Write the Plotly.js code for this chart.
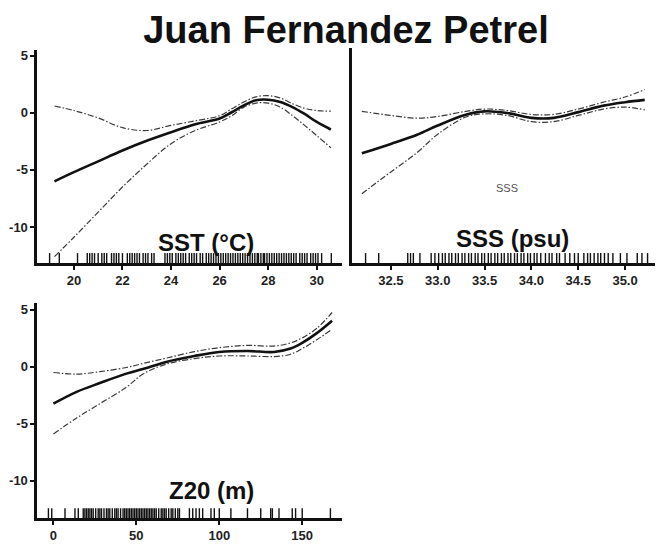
<!DOCTYPE html>
<html>
<head>
<meta charset="utf-8">
<script src="https://cdn.plot.ly/plotly-3.0.1.min.js"></script>
<style>html,body{margin:0;padding:0;background:#fff;}#chart{width:659px;height:544px;}</style>
</head>
<body>
<div id="chart"></div>
<script>
// ---- SST panel ----
const sstX     = [19.2, 20, 21, 22, 23, 24, 25, 26, 26.5, 27, 27.5, 28, 28.5, 29, 29.5, 30, 30.58];
const sstFit   = [-6.0, -5.2, -4.25, -3.3, -2.45, -1.7, -1.0, -0.5, 0.05, 0.65, 1.1, 1.15, 0.95, 0.5, -0.1, -0.8, -1.46];
const sstUpper = [0.6, 0.2, -0.45, -1.3, -1.55, -1.1, -0.7, -0.25, 0.35, 0.95, 1.4, 1.5, 1.3, 0.8, 0.4, 0.2, 0.15];
const sstLower = [-12.6, -10.9, -8.7, -6.5, -4.5, -2.7, -1.55, -0.8, -0.25, 0.5, 0.85, 0.85, 0.5, -0.25, -1.1, -2.0, -3.06];
const sstRug = [19.0, 19.4, 20.15, 20.55, 20.65, 20.75, 20.85, 21.0, 21.15, 21.25, 21.35, 21.55, 21.65, 21.75, 21.85, 22.0,
  22.2, 22.3, 22.4, 22.5, 22.6, 22.7, 22.85, 22.95, 23.05, 23.2, 23.3, 23.75, 23.85, 23.95, 24.05, 24.2, 24.3, 24.4,
  24.5, 24.6, 24.75, 24.85, 24.95, 25.05, 25.2, 25.3, 25.45, 25.55, 25.65, 25.75, 25.85, 25.95, 26.05, 26.15, 26.25,
  26.35, 26.45, 26.55, 26.65, 26.75, 26.85, 26.95, 27.05, 27.15, 27.25, 27.35, 27.45, 27.55, 27.6, 27.7, 27.8, 27.85,
  27.95, 28.05, 28.15, 28.25, 28.35, 28.45, 28.55, 28.65, 28.75, 28.85, 28.95, 29.05, 29.15, 29.3, 29.4, 29.5, 29.6,
  29.75, 29.85, 29.95, 30.05, 30.2, 30.6];

// ---- SSS panel ----
const sssX     = [32.19, 32.5, 32.78, 33.0, 33.3, 33.5, 33.74, 34.0, 34.24, 34.5, 34.77, 35.0, 35.21];
const sssFit   = [-3.57, -2.75, -1.95, -1.14, -0.2, 0.1, -0.05, -0.47, -0.47, 0.03, 0.6, 0.9, 1.1];
const sssUpper = [0.1, -0.26, -0.5, -0.35, 0.1, 0.3, 0.17, -0.17, -0.17, 0.3, 0.9, 1.35, 2.0];
const sssLower = [-7.1, -5.2, -3.5, -1.9, -0.4, -0.12, -0.26, -0.8, -0.8, -0.26, 0.3, 0.47, 0.23];
const sssRug = [32.23, 32.37, 32.68, 32.71, 32.74, 32.81, 32.93, 32.97, 33.01, 33.05, 33.08, 33.12, 33.15, 33.19, 33.22,
  33.26, 33.29, 33.33, 33.36, 33.4, 33.43, 33.47, 33.5, 33.54, 33.57, 33.61, 33.64, 33.68, 33.71, 33.75, 33.78, 33.82,
  33.85, 33.89, 33.92, 33.96, 33.99, 34.03, 34.06, 34.1, 34.15, 34.19, 34.22, 34.27, 34.3, 34.36, 34.41, 34.46, 34.5,
  34.56, 34.6, 34.63, 34.67, 34.71, 34.74, 34.78, 34.82, 34.87, 34.95, 35.02, 35.13, 35.18, 35.24];

// ---- Z20 panel ----
const z20X     = [0, 14, 28, 44, 54, 68, 85, 100, 117, 133, 143, 150, 159, 168];
const z20Fit   = [-3.24, -2.2, -1.43, -0.6, -0.2, 0.43, 0.95, 1.3, 1.39, 1.3, 1.6, 2.1, 2.98, 4.05];
const z20Upper = [-0.5, -0.64, -0.43, -0.06, 0.29, 0.76, 1.33, 1.68, 1.88, 1.82, 2.1, 2.54, 3.4, 4.77];
const z20Lower = [-5.9, -4.5, -3.24, -1.8, -0.64, 0.23, 0.72, 0.95, 0.95, 0.9, 1.1, 1.6, 2.4, 3.3];
const z20Rug = [-3, -1, 7, 13, 15, 18, 19, 20, 21, 22, 23, 24, 25.5, 27, 28, 29, 30.5, 32, 33, 34, 35.5, 37, 38, 39, 40.5,
  42, 43, 44, 45, 46, 47, 48, 49, 50, 51, 52, 53, 54, 55, 56, 57, 58, 59, 60, 61, 62, 63.5, 65, 66, 67, 68, 69.5, 71, 72,
  73.5, 75, 76, 82, 84, 86, 88, 90, 95, 97, 100, 107, 117, 125, 131, 132, 136, 144, 146, 150, 167];

const sstTicks = [20, 22, 24, 26, 28, 30];
const sssTicks = [32.5, 33.0, 33.5, 34.0, 34.5, 35.0];
const sssTickText = ['32.5', '33.0', '33.5', '34.0', '34.5', '35.0'];
const z20Ticks = [0, 50, 100, 150];
const yTicks = [5, 0, -5, -10];
const yTickText = ['5', '0', '-5', '-10'];

const fitLine = {color: '#111', width: 2.6, shape: 'spline', smoothing: 1};
const bandLine = {color: '#3a3a3a', width: 1.2, dash: '6px,2px,1.5px,2px', shape: 'spline', smoothing: 1};

function panel(x, fit, up, lo, rug, rugY, xa, ya) {
  return [
    {x: x, y: up, mode: 'lines', line: bandLine, xaxis: xa, yaxis: ya, hoverinfo: 'skip'},
    {x: x, y: lo, mode: 'lines', line: bandLine, xaxis: xa, yaxis: ya, hoverinfo: 'skip'},
    {x: x, y: fit, mode: 'lines', line: fitLine, xaxis: xa, yaxis: ya, hoverinfo: 'skip'},
    {x: rug, y: rug.map(() => rugY), mode: 'markers', cliponaxis: false,
     marker: {symbol: 'line-ns-open', size: 8, color: '#111', line: {color: '#111', width: 1.4}},
     xaxis: xa, yaxis: ya, hoverinfo: 'skip'}
  ];
}

const data = [].concat(
  panel(sstX, sstFit, sstUpper, sstLower, sstRug, -12.78, 'x', 'y'),
  panel(sssX, sssFit, sssUpper, sssLower, sssRug, -12.78, 'x2', 'y2'),
  panel(z20X, z20Fit, z20Upper, z20Lower, z20Rug, -12.92, 'x3', 'y3')
);

const tickFont = {family: 'Liberation Sans, Arial, sans-serif', size: 13, color: '#222', weight: 'bold'};
const baseX = {showline: true, linewidth: 2.5, linecolor: '#111', ticks: 'outside', ticklen: 4, tickwidth: 2,
  tickcolor: '#111', showgrid: false, zeroline: false, tickfont: tickFont, mirror: false};
const baseY = Object.assign({}, baseX, {tickvals: yTicks, ticktext: yTickText});

const layout = {
  width: 659, height: 544,
  margin: {l: 0, r: 0, t: 0, b: 0},
  paper_bgcolor: '#fff', plot_bgcolor: '#fff',
  showlegend: false,
  title: {text: 'Juan Fernandez Petrel', x: 0.525, xanchor: 'center', y: 0.946, yanchor: 'middle', yref: 'container',
    font: {family: 'Liberation Sans, Arial, sans-serif', size: 38, color: '#111', weight: 'bold'}},
  xaxis: Object.assign({}, baseX, {domain: [0.0561, 0.519], range: [18.48, 31.04], tickvals: sstTicks, anchor: 'y'}),
  yaxis: Object.assign({}, baseY, {domain: [0.5165, 0.908], range: [-13.16, 5.5], anchor: 'x'}),
  xaxis2: Object.assign({}, baseX, {domain: [0.534, 0.994], range: [32.084, 35.32], tickvals: sssTicks, ticktext: sssTickText, anchor: 'y2'}),
  yaxis2: Object.assign({}, baseY, {domain: [0.5165, 0.911], range: [-13.16, 5.6], anchor: 'x2', ticks: '', showticklabels: false}),
  xaxis3: Object.assign({}, baseX, {domain: [0.0561, 0.519], range: [-9.9, 174], tickvals: z20Ticks, anchor: 'y3'}),
  yaxis3: Object.assign({}, baseY, {domain: [0.0475, 0.4425], range: [-13.3, 5.58], anchor: 'x3'}),
  annotations: [
    {text: 'SST (°C)', xref: 'paper', yref: 'paper', x: 206/659, y: 1 - 242/544, showarrow: false,
     xanchor: 'center', yanchor: 'middle', font: {family: 'Liberation Sans, Arial, sans-serif', size: 24, color: '#111', weight: 'bold'}},
    {text: 'SSS (psu)', xref: 'paper', yref: 'paper', x: 512/659, y: 1 - 238/544, showarrow: false,
     xanchor: 'center', yanchor: 'middle', font: {family: 'Liberation Sans, Arial, sans-serif', size: 24, color: '#111', weight: 'bold'}},
    {text: 'SSS', xref: 'paper', yref: 'paper', x: 507/659, y: 1 - 188/544, showarrow: false,
     xanchor: 'center', yanchor: 'middle', font: {family: 'Liberation Sans, Arial, sans-serif', size: 11, color: '#555'}},
    {text: 'Z20 (m)', xref: 'paper', yref: 'paper', x: 212/659, y: 1 - 490/544, showarrow: false,
     xanchor: 'center', yanchor: 'middle', font: {family: 'Liberation Sans, Arial, sans-serif', size: 24, color: '#111', weight: 'bold'}}
  ]
};

Plotly.newPlot('chart', data, layout, {staticPlot: true, displayModeBar: false});
</script>
</body>
</html>
